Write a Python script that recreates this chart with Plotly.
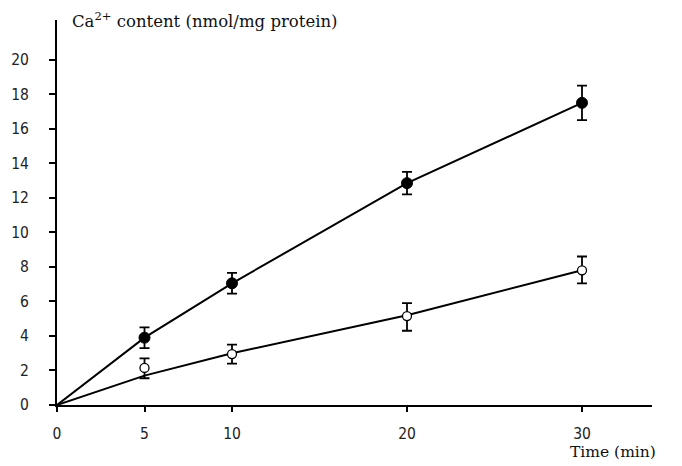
import plotly.graph_objects as go

time_pts = [5, 10, 20, 30]
filled_vals = [3.9, 7.05, 12.85, 17.5]
filled_err = [0.6, 0.6, 0.65, 1.0]
open_vals = [2.15, 2.95, 5.15, 7.8]
open_err_plus = [0.55, 0.55, 0.75, 0.8]
open_err_minus = [0.6, 0.55, 0.85, 0.75]

line_time = [0, 5, 10, 20, 30]
filled_line = [0, 3.9, 7.05, 12.85, 17.5]
open_line = [0, 1.7, 3.0, 5.2, 7.8]

x_ticks = [0, 5, 10, 20, 30]
y_ticks = [0, 2, 4, 6, 8, 10, 12, 14, 16, 18, 20]

fig = go.Figure()
fig.add_trace(go.Scatter(x=line_time, y=filled_line, mode="lines",
                         line=dict(color="black", width=2), showlegend=False))
fig.add_trace(go.Scatter(x=line_time, y=open_line, mode="lines",
                         line=dict(color="black", width=2), showlegend=False))
fig.add_trace(go.Scatter(x=time_pts, y=filled_vals, mode="markers",
                         marker=dict(color="black", size=11, line=dict(color="black", width=1)),
                         error_y=dict(type="data", array=filled_err, color="black",
                                      thickness=1.8, width=5),
                         showlegend=False))
fig.add_trace(go.Scatter(x=time_pts, y=open_vals, mode="markers",
                         marker=dict(color="white", size=9, line=dict(color="black", width=1.3)),
                         error_y=dict(type="data", array=open_err_plus, arrayminus=open_err_minus,
                                      color="black", thickness=1.8, width=5),
                         showlegend=False))

tick_font = dict(family="Liberation Sans Narrow, DejaVu Sans Condensed, sans-serif", size=15.5, color="#222")
serif = "DejaVu Serif, Liberation Serif, serif"
# page has an 8px body margin: figure sized to fill the rest of the 682x466 window
fig.update_layout(
    width=674, height=458,
    margin=dict(l=49, r=30, t=12, b=61, autoexpand=False),
    plot_bgcolor="white", paper_bgcolor="white",
    xaxis=dict(range=[0, 34], tickvals=x_ticks, ticktext=[str(v) for v in x_ticks],
               showgrid=False, zeroline=False, showline=True, linecolor="black", linewidth=2,
               ticks="outside", ticklen=5, tickwidth=2, tickcolor="black",
               ticklabelstandoff=8, tickfont=tick_font, automargin=False),
    yaxis=dict(range=[0, 22.3], tickvals=y_ticks, ticktext=[str(v) for v in y_ticks],
               showgrid=False, zeroline=False, showline=True, linecolor="black", linewidth=2,
               ticks="outside", ticklen=6, tickwidth=2, tickcolor="black",
               ticklabelstandoff=17, tickfont=tick_font, automargin=False),
    annotations=[
        dict(text="Ca<sup>2+</sup> content (nmol/mg protein)", xref="paper", yref="paper",
             x=(70 - 57) / 595, y=1.0, xanchor="left", yanchor="middle", showarrow=False,
             font=dict(family=serif, size=16.5, color="#111")),
        dict(text="Time (min)", xref="paper", yref="paper",
             x=(658 - 57) / 595, y=-(452 - 405) / 385, xanchor="right", yanchor="middle",
             showarrow=False, font=dict(family=serif, size=15.5, color="#111")),
    ],
)
fig.write_html("out.html")
